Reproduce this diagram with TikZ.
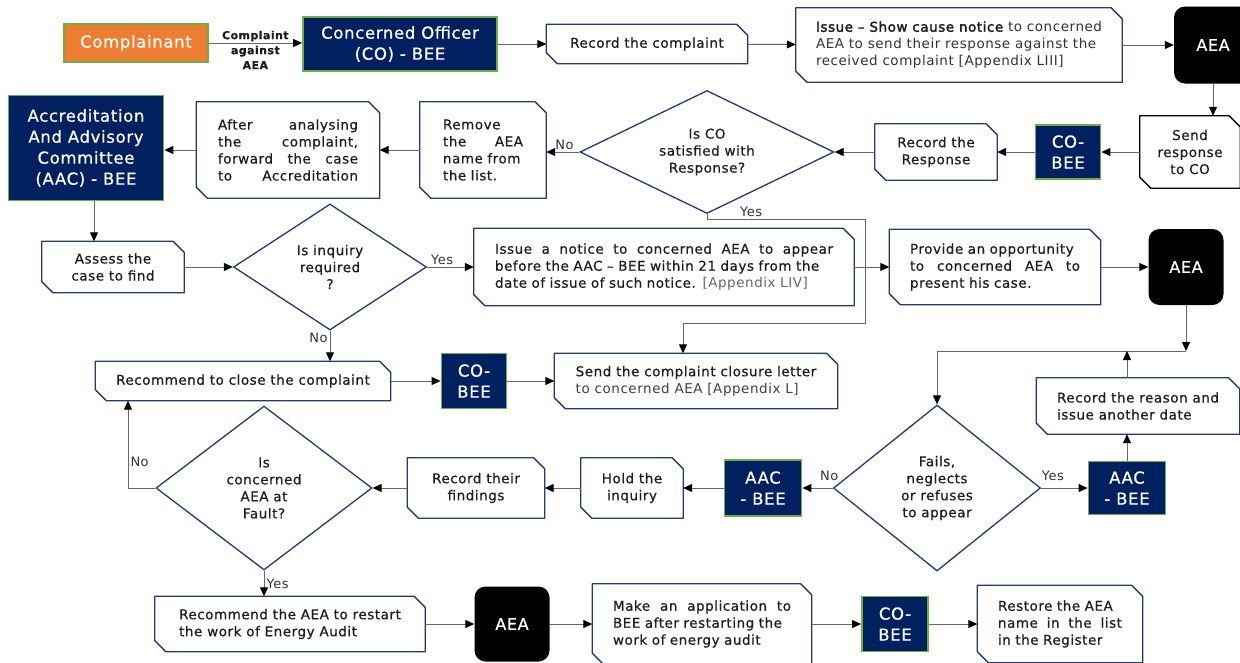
\documentclass[tikz,border=0pt]{standalone}
\usepackage{fontspec}
\setmainfont{DejaVu Sans}[LetterSpace=4, FakeBold=0.6]
\newfontfamily\strongfont{DejaVu Sans}[FakeBold=2.2, LetterSpace=4]
\newfontfamily\lightfont{DejaVu Sans}[LetterSpace=4]
\usetikzlibrary{shapes.geometric, arrows.meta, positioning, calc}
\definecolor{navybox}{RGB}{0, 32, 96}
\definecolor{edgeblue}{RGB}{35, 58, 110}
\definecolor{leafgreen}{RGB}{112, 173, 71}
\definecolor{complorange}{RGB}{237, 125, 49}
\definecolor{inkblack}{RGB}{30, 30, 30}
\newcommand{\boxfont}{\fontsize{13.5}{17}\selectfont}
\tikzset{
  stepbox/.style={rectangle, inner sep=4pt, align=center, text=inkblack, font=\boxfont,
    append after command={\pgfextra{\draw[#1, line width=1.3pt, line join=round]
      (\tikzlastnode.north west) -- ([xshift=-11pt]\tikzlastnode.north east)
      -- ([yshift=-11pt]\tikzlastnode.north east) -- (\tikzlastnode.south east)
      -- ([xshift=11pt]\tikzlastnode.south west) -- ([yshift=11pt]\tikzlastnode.south west) -- cycle;}}},
  stepbox/.default=edgeblue,
  bodybox/.style={rectangle, draw=leafgreen, line width=1.8pt, fill=navybox, text=white, align=center, inner sep=2pt, font=\fontsize{16.5}{21}\selectfont},
  aeabox/.style={rectangle, rounded corners=11pt, fill=black, text=white, font=\fontsize{16}{20}\selectfont},
  askbox/.style={diamond, aspect=1.4, draw=edgeblue, line width=1.3pt, fill=white, inner sep=0pt, align=center, text=inkblack, font=\boxfont},
  wire/.style={draw=black!60, line width=1pt},
  flow/.style={wire, -{Triangle[length=9pt, width=8pt, color=black]}},
  ynlabel/.style={font=\lightfont\fontsize{13}{15}\selectfont, text=black!80, inner sep=2pt},
  cmtlabel/.style={align=center, inner sep=0pt, text=inkblack, font=\fontsize{11}{15}\selectfont\bfseries},
}
\begin{document}
\begin{tikzpicture}[x=1pt, y=-1pt]
  \fill[white] (0,0) rectangle (1240,662);
  \useasboundingbox (0,0) rectangle (1240,662);
  \node[bodybox, fill=complorange, line width=1.2pt, minimum width=144pt, minimum height=38pt] (comp) at (136,43) {Complainant};
  \node[bodybox, minimum width=194pt, minimum height=54pt] (co) at (400,44) {Concerned Officer\\(CO) - BEE};
  \node[stepbox, minimum width=201pt, minimum height=39pt] (rec) at (647,44) {Record the complaint};
  \node[stepbox, minimum width=326pt, minimum height=74pt, align=left] (scn) at (959,45) {{\strongfont Issue – Show cause notice} {\lightfont\color{black!80}to concerned}\\{\lightfont\color{black!80}AEA to send their response against the}\\{\lightfont\color{black!80}received complaint [Appendix LIII]}};
  \node[aeabox, minimum width=78pt, minimum height=77pt] (aea1) at (1213,45) {AEA};
  \node[stepbox=black, minimum width=100pt, minimum height=72pt] (send) at (1190,152) {Send\\response\\to CO};
  \node[bodybox, minimum width=65pt, minimum height=54pt] (cob1) at (1068,152) {CO-\\BEE};
  \node[stepbox, minimum width=122pt, minimum height=56pt] (resp) at (936,152) {Record the\\Response};
  \node[askbox, aspect=2, minimum width=254pt, minimum height=123pt] (satq) at (707,152) {Is CO\\satisfied with\\Response?};
  \node[stepbox, minimum width=126pt, minimum height=96pt, text width=80pt, align=left] (remove) at (483,150) {Remove\\the\hfill AEA\\name from\\the list.};
  \node[stepbox, minimum width=183pt, minimum height=96pt, text width=140pt, align=left] (fwd) at (288,150) {After\hfill analysing\\the\hfill complaint,\\forward\hfill the\hfill case\\to\hfill Accreditation};
  \node[bodybox, minimum width=155pt, minimum height=105pt] (aac) at (86,148) {Accreditation\\And Advisory\\Committee\\(AAC) - BEE};
  \node[stepbox, minimum width=142pt, minimum height=51pt] (assess) at (113,267) {Assess the\\case to find};
  \node[askbox, aspect=1.5, minimum width=193pt, minimum height=126pt] (inqq) at (330,267) {Is inquiry\\required\\?};
  \node[stepbox, minimum width=380pt, minimum height=77pt, text width=338pt, align=left] (apnot) at (664,267) {Issue\hfill a\hfill notice\hfill to\hfill concerned\hfill AEA\hfill to\hfill appear\\before the AAC – BEE within 21 days from the\\date of issue of such notice. {\lightfont\color{black!60}[Appendix LIV]}};
  \node[stepbox, minimum width=211pt, minimum height=75pt, text width=170pt, align=left] (opp) at (995,267) {Provide an opportunity\\to\hfill concerned\hfill AEA\hfill to\\present his case.};
  \node[aeabox, minimum width=75pt, minimum height=76pt] (aea2) at (1186,267) {AEA};
  \node[stepbox, minimum width=295pt, minimum height=39pt] (close) at (243,381) {Recommend to close the complaint};
  \node[bodybox, minimum width=65pt, minimum height=55pt] (cob2) at (474,381) {CO-\\BEE};
  \node[stepbox, minimum width=283pt, minimum height=55pt, align=left] (letter) at (696,381) {Send the complaint closure letter\\{\lightfont\color{black!75}to concerned AEA [Appendix L]}};
  \node[stepbox, minimum width=203pt, minimum height=56pt, align=left] (reason) at (1138,406) {Record the reason and\\issue another date};
  \node[askbox, aspect=1.2, minimum width=207pt, minimum height=166pt] (failq) at (937,488) {Fails,\\neglects\\or refuses\\to appear};
  \node[bodybox, minimum width=77pt, minimum height=53pt] (aac1) at (1127,488) {AAC\\- BEE};
  \node[bodybox, minimum width=77pt, minimum height=56pt] (aac2) at (763,488) {AAC\\- BEE};
  \node[stepbox, minimum width=102pt, minimum height=60pt] (hold) at (632,488) {Hold the\\inquiry};
  \node[stepbox, minimum width=137pt, minimum height=60pt] (find) at (476,488) {Record their\\findings};
  \node[askbox, aspect=1.3, minimum width=216pt, minimum height=164pt] (faultq) at (264,488) {Is\\concerned\\AEA at\\Fault?};
  \node[stepbox, minimum width=270pt, minimum height=55pt, align=left] (restart) at (290,624) {Recommend the AEA to restart\\the work of Energy Audit};
  \node[aeabox, minimum width=75pt, minimum height=75pt] (aea3) at (512,624) {AEA};
  \node[stepbox, minimum width=219pt, minimum height=80pt, text width=178pt, align=left] (apply) at (702,624) {Make\hfill an\hfill application\hfill to\\BEE after restarting the\\work of energy audit};
  \node[bodybox, minimum width=66pt, minimum height=55pt] (cob3) at (895,624) {CO-\\BEE};
  \node[stepbox, minimum width=165pt, minimum height=77pt, text width=124pt, align=left] (restore) at (1060,624) {Restore the AEA\\name\hfill in\hfill the\hfill list\\in the Register};
  \coordinate (yesturn) at (865,219);
  \coordinate (yesdrop) at (865,323);
  \coordinate (yesland) at (683,323);
  \coordinate (meet) at (1186,351);
  \coordinate (rejoin) at (1127,351);
  \coordinate (nobend) at (128,488);
  \draw[flow] (comp) -- node[cmtlabel, yshift=-7pt]{Complaint\\against\\AEA} (comp -| co.west);
  \draw[flow] (co) -- (rec);
  \draw[flow] (rec) -- (scn);
  \draw[flow] (scn) -- (aea1);
  \draw[flow] (aea1.south) -- (aea1.south |- send.north);
  \draw[flow] (send) -- (cob1);
  \draw[flow] (cob1) -- (resp);
  \draw[flow] (resp) -- (satq);
  \draw[flow] (satq.west) -- node[ynlabel, above, pos=0.45]{No} (satq.west -| remove.east);
  \draw[flow] (remove) -- (fwd);
  \draw[flow] (fwd.west) -- (fwd.west -| aac.east);
  \draw[flow] ([xshift=8pt]aac.south) -- ([xshift=8pt]aac.south |- assess.north);
  \draw[flow] (satq.south) |- node[ynlabel, above, pos=0.64]{Yes} (yesturn) -- (yesdrop) -| (yesland |- letter.north);
  \draw[flow] (assess) -- (inqq);
  \draw[flow] (inqq) -- node[ynlabel, above, pos=0.32]{Yes} (apnot);
  \draw[flow] (apnot) -- (opp);
  \draw[flow] (opp) -- (aea2);
  \draw[flow] (inqq.south) -- node[ynlabel, left, pos=0.25]{No} (inqq.south |- close.north);
  \draw[flow] (aea2) -- (meet);
  \draw[flow] (meet) -| (failq.north);
  \draw[flow] (reason.north -| rejoin) -- (rejoin);
  \draw[flow] (aac1) -- (aac1 |- reason.south);
  \draw[flow] (close) -- (cob2);
  \draw[flow] (cob2) -- (letter);
  \draw[flow] (failq) -- node[ynlabel, above=5pt, pos=0.25]{Yes} (aac1);
  \draw[flow] (failq) -- node[ynlabel, above=5pt, pos=0.12]{No} (aac2);
  \draw[flow] (aac2) -- (hold);
  \draw[flow] (hold) -- (find);
  \draw[flow] (find) -- (faultq);
  \draw[flow] (faultq.west) -- (nobend) -- node[ynlabel, right, pos=0.3]{No} (nobend |- close.south);
  \draw[flow] (faultq.south) -- node[ynlabel, right]{Yes} (faultq.south |- restart.north);
  \draw[flow] (restart) -- (aea3);
  \draw[flow] (aea3) -- (apply);
  \draw[flow] (apply) -- (cob3);
  \draw[flow] (cob3) -- (restore);
\end{tikzpicture}
\end{document}
